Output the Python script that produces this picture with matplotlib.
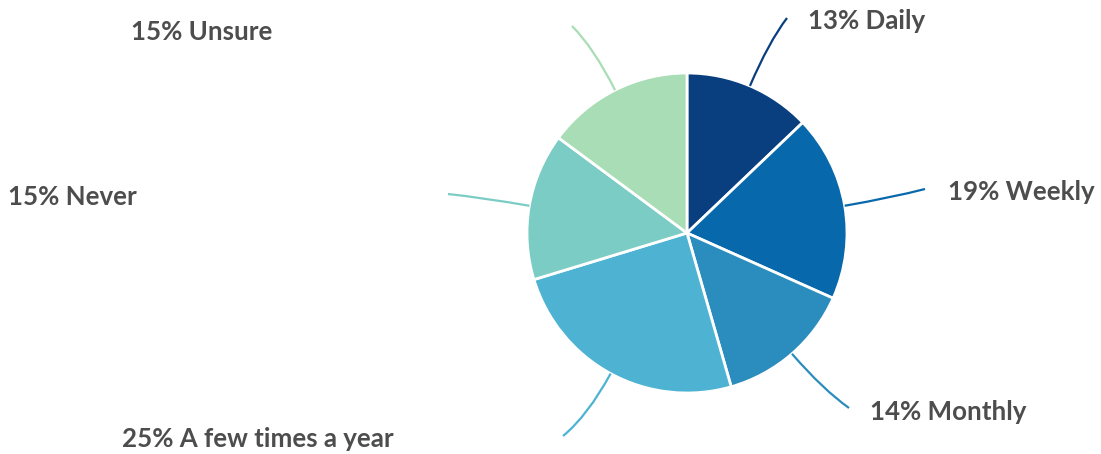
import numpy as np
import matplotlib
matplotlib.use("Agg")
import matplotlib.pyplot as plt
from matplotlib.path import Path
from matplotlib.patches import PathPatch

categories = ["Daily", "Weekly", "Monthly", "A few times a year", "Never", "Unsure"]
values = [13, 19, 14, 25, 15, 15]
colors = ["#0a3f7f", "#0868ac", "#2b8cbe", "#4eb3d3", "#7bccc4", "#a8ddb5"]

# label anchor positions in pixel coords (x, y from top)
label_end = [(787, 18), (925, 189), (849, 408), (563, 436), (448, 194), (572, 26)]
text_pos = [(808, 21), (948, 192), (870, 412), (122, 439), (8, 197), (131, 32)]

W, H = 1101, 454
fig = plt.figure(figsize=(W / 100, H / 100), dpi=100)
ax = fig.add_axes([0, 0, 1, 1])
ax.set_xlim(0, W)
ax.set_ylim(0, H)
ax.set_aspect("equal")
ax.axis("off")

cx, cy, r = 687, H - 233, 160
wedges, _ = ax.pie(values, colors=colors, startangle=90, counterclock=False,
                   center=(cx, cy), radius=r,
                   wedgeprops=dict(edgecolor="white", linewidth=2))
ax.set_xlim(0, W)
ax.set_ylim(0, H)

for w, col, cat, v, end, tp in zip(wedges, colors, categories, values, label_end, text_pos):
    ang = np.deg2rad((w.theta1 + w.theta2) / 2)
    dx, dy = np.cos(ang), np.sin(ang)
    p0 = (cx + r * dx, cy + r * dy)
    p1 = (cx + 1.3 * r * dx, cy + 1.3 * r * dy)
    p2 = (end[0], H - end[1])
    path = Path([p0, p1, p2], [Path.MOVETO, Path.CURVE3, Path.CURVE3])
    ax.add_patch(PathPatch(path, facecolor="none", edgecolor=col, lw=1.6))
    ax.text(tp[0], H - tp[1], f"{v}% {cat}", ha="left", va="center",
            fontsize=18.6, fontweight="bold", color="#4d4d4d", family="Lato")

fig.savefig("out.png", dpi=100)
